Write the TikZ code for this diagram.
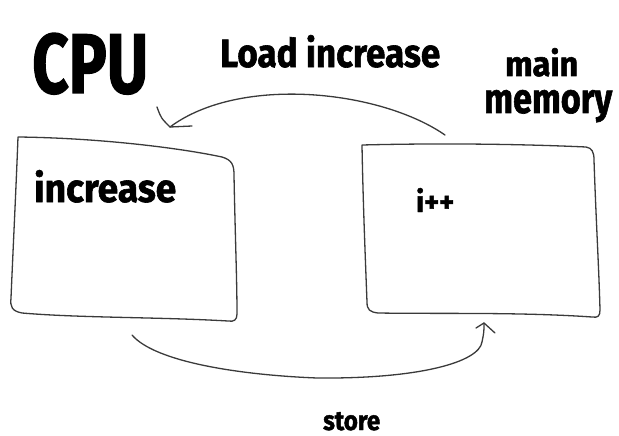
\documentclass[tikz,border=0pt]{standalone}
\usepackage{fontspec}
\setmainfont{Fira Sans}[BoldFeatures={FakeBold=1.6}]
\usepackage{graphicx}
\definecolor{ink}{HTML}{3A3A3A}
\newcommand{\fitto}[3]{\resizebox{#1pt}{#2pt}{#3}}
\begin{document}
\begin{tikzpicture}[x=1pt,y=-1pt,
  sketch/.style={draw=ink,line width=1.3pt,line cap=round,line join=round},
  lbl/.style={inner sep=0pt,anchor=base west,text=black}]
\useasboundingbox (0,0) rectangle (619,436);
% texts
\node[lbl] (cpu) at (32,93) {\fitto{116}{60}{\bfseries CPU}};
\node[lbl] (load) at (220,67) {\fitto{220}{32}{\bfseries Load increase}};
\node[lbl] (main) at (505,76) {\fitto{73}{28}{\bfseries main}};
\node[lbl] (memory) at (484,113) {\fitto{128}{23}{\bfseries memory}};
\node[lbl] (incr) at (34,202) {\fitto{142}{32}{\bfseries increase}};
\node[lbl] (ipp) at (416,212) {\fitto{38}{24}{\fontseries{sb}\selectfont i++}};
\node[lbl] (store) at (323,430) {\fitto{57}{18}{\bfseries store}};
% boxes
\draw[sketch] (18,137) .. controls (100,138) and (180,148) .. (222,157)
  .. controls (232,160) and (234,165) .. (234,175)
  .. controls (235,230) and (237,280) .. (237,314)
  .. controls (237,320) and (234,322) .. (228,321)
  .. controls (160,317) and (80,318) .. (22,313)
  .. controls (12,311) and (10,307) .. (11,298)
  .. controls (13,250) and (16,190) .. cycle;
\draw[sketch] (362,145) .. controls (440,143) and (520,144) .. (586,147)
  .. controls (592,148) and (594,152) .. (594,160)
  .. controls (596,220) and (599,270) .. (600,310)
  .. controls (600,316) and (598,318) .. (592,317)
  .. controls (520,312) and (440,314) .. (378,313)
  .. controls (370,312) and (367,310) .. (367,302)
  .. controls (365,250) and (363,200) .. cycle;
% load arrow
\coordinate (ldS) at (445,135);
\coordinate (ldT) at (170,127);
\coordinate (ldA) at (157,107);
\coordinate (ldB) at (192,126);
\draw[sketch] (ldS) .. controls (380,90) and (240,75) .. (ldT);
\draw[sketch] (ldA) .. controls (161,118) .. (ldT) -- (ldB);
% store arrow
\coordinate (stS) at (132,335);
\coordinate (stM) at (317,378);
\coordinate (stN) at (482,342);
\coordinate (stT) at (484,323);
\coordinate (stA) at (476,328);
\coordinate (stB) at (495,333);
\draw[sketch] (stS) .. controls (155,362) and (240,375) .. (stM)
  .. controls (420,379) and (479,362) .. (stN) .. controls (484,332) .. (stT);
\draw[sketch] (stA) -- (stT) -- (stB);
\end{tikzpicture}
\end{document}
